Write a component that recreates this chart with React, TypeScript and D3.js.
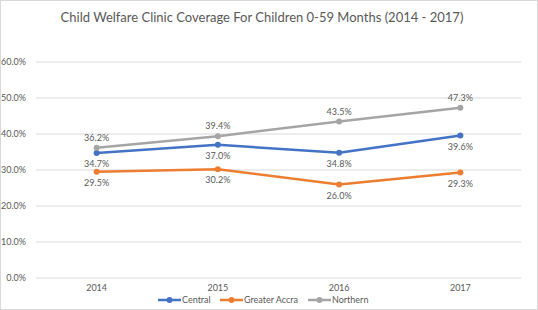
import React from "react";
import * as d3 from "d3";

const years = ["2014", "2015", "2016", "2017"];
const central = [34.7, 37.0, 34.8, 39.6];
const greaterAccra = [29.5, 30.2, 26.0, 29.3];
const northern = [36.2, 39.4, 43.5, 47.3];
const yTicks = [0, 10, 20, 30, 40, 50, 60];

const seriesNames = ["Central", "Greater Accra", "Northern"];
const seriesColors = ["#4472C4", "#ED7D31", "#A5A5A5"];
const labelPos = ["below", "below", "above"];

const W = 538;
const H = 310;
const FONT = "Lato, 'Noto Sans', sans-serif";
const TXT = "#595959";

export default function App() {
  const x = d3.scaleBand<string>().domain(years).range([36, 521]);
  const y = d3.scaleLinear().domain([0, 60]).range([278, 62]);
  const values = [central, greaterAccra, northern];
  const line = d3
    .line<number>()
    .x((_, i) => (x(years[i]) as number) + x.bandwidth() / 2)
    .y((v) => y(v));

  const legendX = [158, 220, 308];

  return (
    <div style={{ position: "absolute", left: 0, top: 0 }}>
      <svg width={W} height={H} style={{ display: "block" }}>
        <rect x={0} y={0} width={W} height={H} fill="#fff" />
        <rect x={0.5} y={0.5} width={W - 1} height={H - 1} fill="none" stroke="#d9d9d9" />
        <text x={262} y={22} textAnchor="middle" fontFamily={FONT} fontSize={13} fill={TXT}>
          Child Welfare Clinic Coverage For Children 0-59 Months (2014 - 2017)
        </text>
        {yTicks.map((t) => (
          <g key={t}>
            <line x1={36} x2={521} y1={y(t)} y2={y(t)} stroke="#d9d9d9" strokeWidth={1} />
            <text x={26} y={y(t)} dy="0.35em" textAnchor="end" fontFamily={FONT} fontSize={9} fill={TXT}>
              {d3.format(".1f")(t)}%
            </text>
          </g>
        ))}
        {years.map((yr) => (
          <text key={yr} x={(x(yr) as number) + x.bandwidth() / 2} y={288} dy="0.35em" textAnchor="middle" fontFamily={FONT} fontSize={9} fill={TXT}>
            {yr}
          </text>
        ))}
        {values.map((vals, si) => (
          <g key={si}>
            <path d={line(vals) || ""} fill="none" stroke={seriesColors[si]} strokeWidth={2.5} strokeLinejoin="round" />
            {vals.map((v, i) => {
              const cx = (x(years[i]) as number) + x.bandwidth() / 2;
              return <circle key={i} cx={cx} cy={y(v)} r={3} fill={seriesColors[si]} />;
            })}
          </g>
        ))}
        {values.map((vals, si) =>
          vals.map((v, i) => {
            const cx = (x(years[i]) as number) + x.bandwidth() / 2;
            const ly = labelPos[si] === "above" ? y(v) - 10 : y(v) + 11;
            return (
              <text key={si + "-" + i} x={cx} y={ly} dy="0.35em" textAnchor="middle" fontFamily={FONT} fontSize={9} fill={TXT}>
                {d3.format(".1f")(v)}%
              </text>
            );
          })
        )}
        {seriesNames.map((n, si) => (
          <g key={n}>
            <line x1={legendX[si]} x2={legendX[si] + 23} y1={300} y2={300} stroke={seriesColors[si]} strokeWidth={2.5} />
            <circle cx={legendX[si] + 11.5} cy={300} r={3} fill={seriesColors[si]} />
            <text x={legendX[si] + 24} y={300} dy="0.35em" fontFamily={FONT} fontSize={9} fill={TXT}>
              {n}
            </text>
          </g>
        ))}
      </svg>
    </div>
  );
}
